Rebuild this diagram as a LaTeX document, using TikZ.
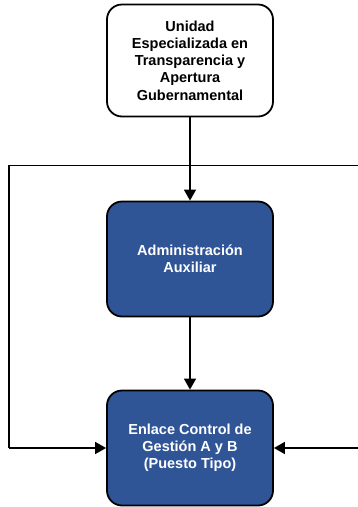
\documentclass[tikz,border=0pt]{standalone}
\usepackage{fontspec}
\setmainfont{Liberation Sans}
\usetikzlibrary{arrows.meta}
\definecolor{boxblue}{RGB}{47,85,151}
\tikzset{
  box/.style={draw=black, line width=1.8pt, rounded corners=15pt, minimum width=166pt, align=center,
    font=\bfseries\fontsize{14.5}{17.2}\selectfont, inner sep=0pt},
  whitebox/.style={box, fill=white, text=black},
  bluebox/.style={box, fill=boxblue, text=white},
  conn/.style={draw=black, line width=1.5pt},
  arr/.style={conn, -{Triangle[length=11pt,width=12pt]}}
}
\begin{document}
\begin{tikzpicture}[x=1pt,y=-1pt]
\useasboundingbox (0,0) rectangle (357,507);
\node[whitebox, minimum height=112pt] (u) at (190,60.5) {Unidad\\Especializada en\\Transparencia y\\Apertura\\Gubernamental};
\node[bluebox, minimum height=115pt] (a) at (190,259) {Administración\\Auxiliar};
\node[bluebox, minimum height=115pt] (e) at (190,448) {Enlace Control de\\Gestión A y B\\(Puesto Tipo)};
\coordinate (tr) at (358,165.5);
\coordinate (br) at (358,448);
\draw[arr] (u) -- (a);
\draw[arr] (a) -- (e);
\draw[conn] (tr) -- (9,165.5) -- (9,448) coordinate (bl);
\draw[arr] (bl) -- (e.west);
\draw[arr] (br) -- (e.east);
\end{tikzpicture}
\end{document}
